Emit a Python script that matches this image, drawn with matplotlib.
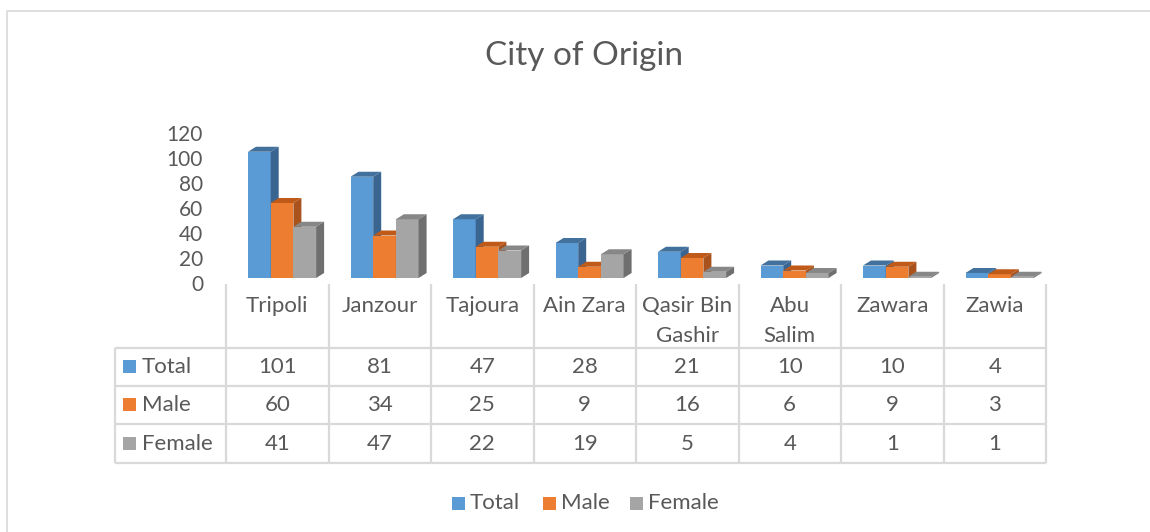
import matplotlib
matplotlib.use("Agg")
import matplotlib.pyplot as plt
from matplotlib.patches import Polygon, Rectangle
from matplotlib.transforms import ScaledTranslation

# ---------------- data ----------------
categories = ["Tripoli", "Janzour", "Tajoura", "Ain Zara", "Qasir Bin Gashir",
              "Abu Salim", "Zawara", "Zawia"]
cat_labels = ["Tripoli", "Janzour", "Tajoura", "Ain Zara", "Qasir Bin\nGashir",
              "Abu\nSalim", "Zawara", "Zawia"]
series_names = ["Total", "Male", "Female"]
total = [101, 81, 47, 28, 21, 10, 10, 4]
male = [60, 34, 25, 9, 16, 6, 9, 3]
female = [41, 47, 22, 19, 5, 4, 1, 1]
values = [total, male, female]
yticks = [0, 20, 40, 60, 80, 100, 120]
title = "City of Origin"

# ---------------- style ----------------
front = ["#5B9BD5", "#ED7D31", "#A5A5A5"]
top_c = ["#41719C", "#C05A18", "#878787"]
side_c = ["#3A6590", "#A9521C", "#6F6F6F"]
txt = "#595959"
grid = "#D9D9D9"
FONT = "Lato"

W, H = 1150, 532
fig = plt.figure(figsize=(W / 100, H / 100), dpi=100)
fig.patch.set_facecolor("white")

def fx(x):
    return x / W

def fy(y):
    return 1 - y / H

# overlay in pixel coords for chart frame, table, legend
ov = fig.add_axes([0, 0, 1, 1])
ov.set_xlim(0, W)
ov.set_ylim(H, 0)
ov.axis("off")

# chart border
ov.plot([7, 7, W], [H, 11, 11], color=grid, lw=1.2, solid_capstyle="butt")

# title
ov.text(584, 56, title, ha="center", va="center", fontsize=24, color=txt, family=FONT)

# ---------------- bars ----------------
x_left, x_right = 226, 1046
base_px, top_px = 278, 128
ax = fig.add_axes([fx(x_left), fy(base_px), fx(x_right - x_left), (base_px - top_px) / H])
ax.set_xlim(0, len(categories))
ax.set_ylim(0, 120)
ax.patch.set_alpha(0)
for s in ax.spines.values():
    s.set_visible(False)
ax.set_xticks([])
ax.set_yticks(yticks)
ax.tick_params(axis="y", length=0, pad=16.5, labelsize=15, labelcolor=txt)
for lab in ax.get_yticklabels():
    lab.set_family(FONT)
    lab.set_transform(lab.get_transform() + ScaledTranslation(0, -5 / 100, fig.dpi_scale_trans))

col_px = (x_right - x_left) / len(categories)
off = 22 / col_px
bw = 22.7 / col_px
dx = 8 / col_px
dy = 5 / 1.25

for i in range(len(categories)):
    for j, vals in enumerate(values):
        v = vals[i]
        x0 = i + off + j * bw
        x1 = x0 + bw
        ax.add_patch(Rectangle((x0, 0), bw, v, facecolor=front[j], edgecolor="none", clip_on=False))
        ax.add_patch(Polygon([(x0, v), (x1, v), (x1 + dx, v + dy), (x0 + dx, v + dy)],
                             closed=True, facecolor=top_c[j], edgecolor="none", clip_on=False))
        ax.add_patch(Polygon([(x1, 0), (x1 + dx, dy), (x1 + dx, v + dy), (x1, v)],
                             closed=True, facecolor=side_c[j], edgecolor="none", clip_on=False))

# ---------------- data table ----------------
t_left = 115
hdr_top = 284
rows_y = [348, 386, 424, 463]
col_edges = [x_left + k * col_px for k in range(len(categories) + 1)]
lw = 1.6
# vertical lines
for xe in col_edges:
    ov.plot([xe, xe], [hdr_top, rows_y[-1]], color=grid, lw=lw, solid_capstyle="butt")
ov.plot([t_left, t_left], [rows_y[0], rows_y[-1]], color=grid, lw=lw, solid_capstyle="butt")
# horizontal lines
for yr in rows_y:
    ov.plot([t_left, x_right], [yr, yr], color=grid, lw=lw, solid_capstyle="butt")

fs = 16
# header labels
for i, lab in enumerate(cat_labels):
    cx = (col_edges[i] + col_edges[i + 1]) / 2
    ov.text(cx, 296, lab, ha="center", va="top", fontsize=fs, color=txt,
            family=FONT, linespacing=1.6)
# rows
for r, (name, vals) in enumerate(zip(series_names, values)):
    cy = (rows_y[r] + rows_y[r + 1]) / 2
    ov.add_patch(Rectangle((123, cy - 7), 13, 13, facecolor=front[r], edgecolor="none"))
    ov.text(142, cy, name, ha="left", va="center", fontsize=fs, color=txt, family=FONT)
    for i, v in enumerate(vals):
        cx = (col_edges[i] + col_edges[i + 1]) / 2
        ov.text(cx, cy, str(v), ha="center", va="center", fontsize=fs, color=txt, family=FONT)

# ---------------- legend ----------------
leg_x = [452, 543, 630]
for k, name in enumerate(series_names):
    ov.add_patch(Rectangle((leg_x[k], 497), 13, 13, facecolor=front[k], edgecolor="none"))
    ov.text(leg_x[k] + 18, 503, name, ha="left", va="center", fontsize=fs, color=txt, family=FONT)

fig.savefig("out.png", dpi=100, facecolor="white")
